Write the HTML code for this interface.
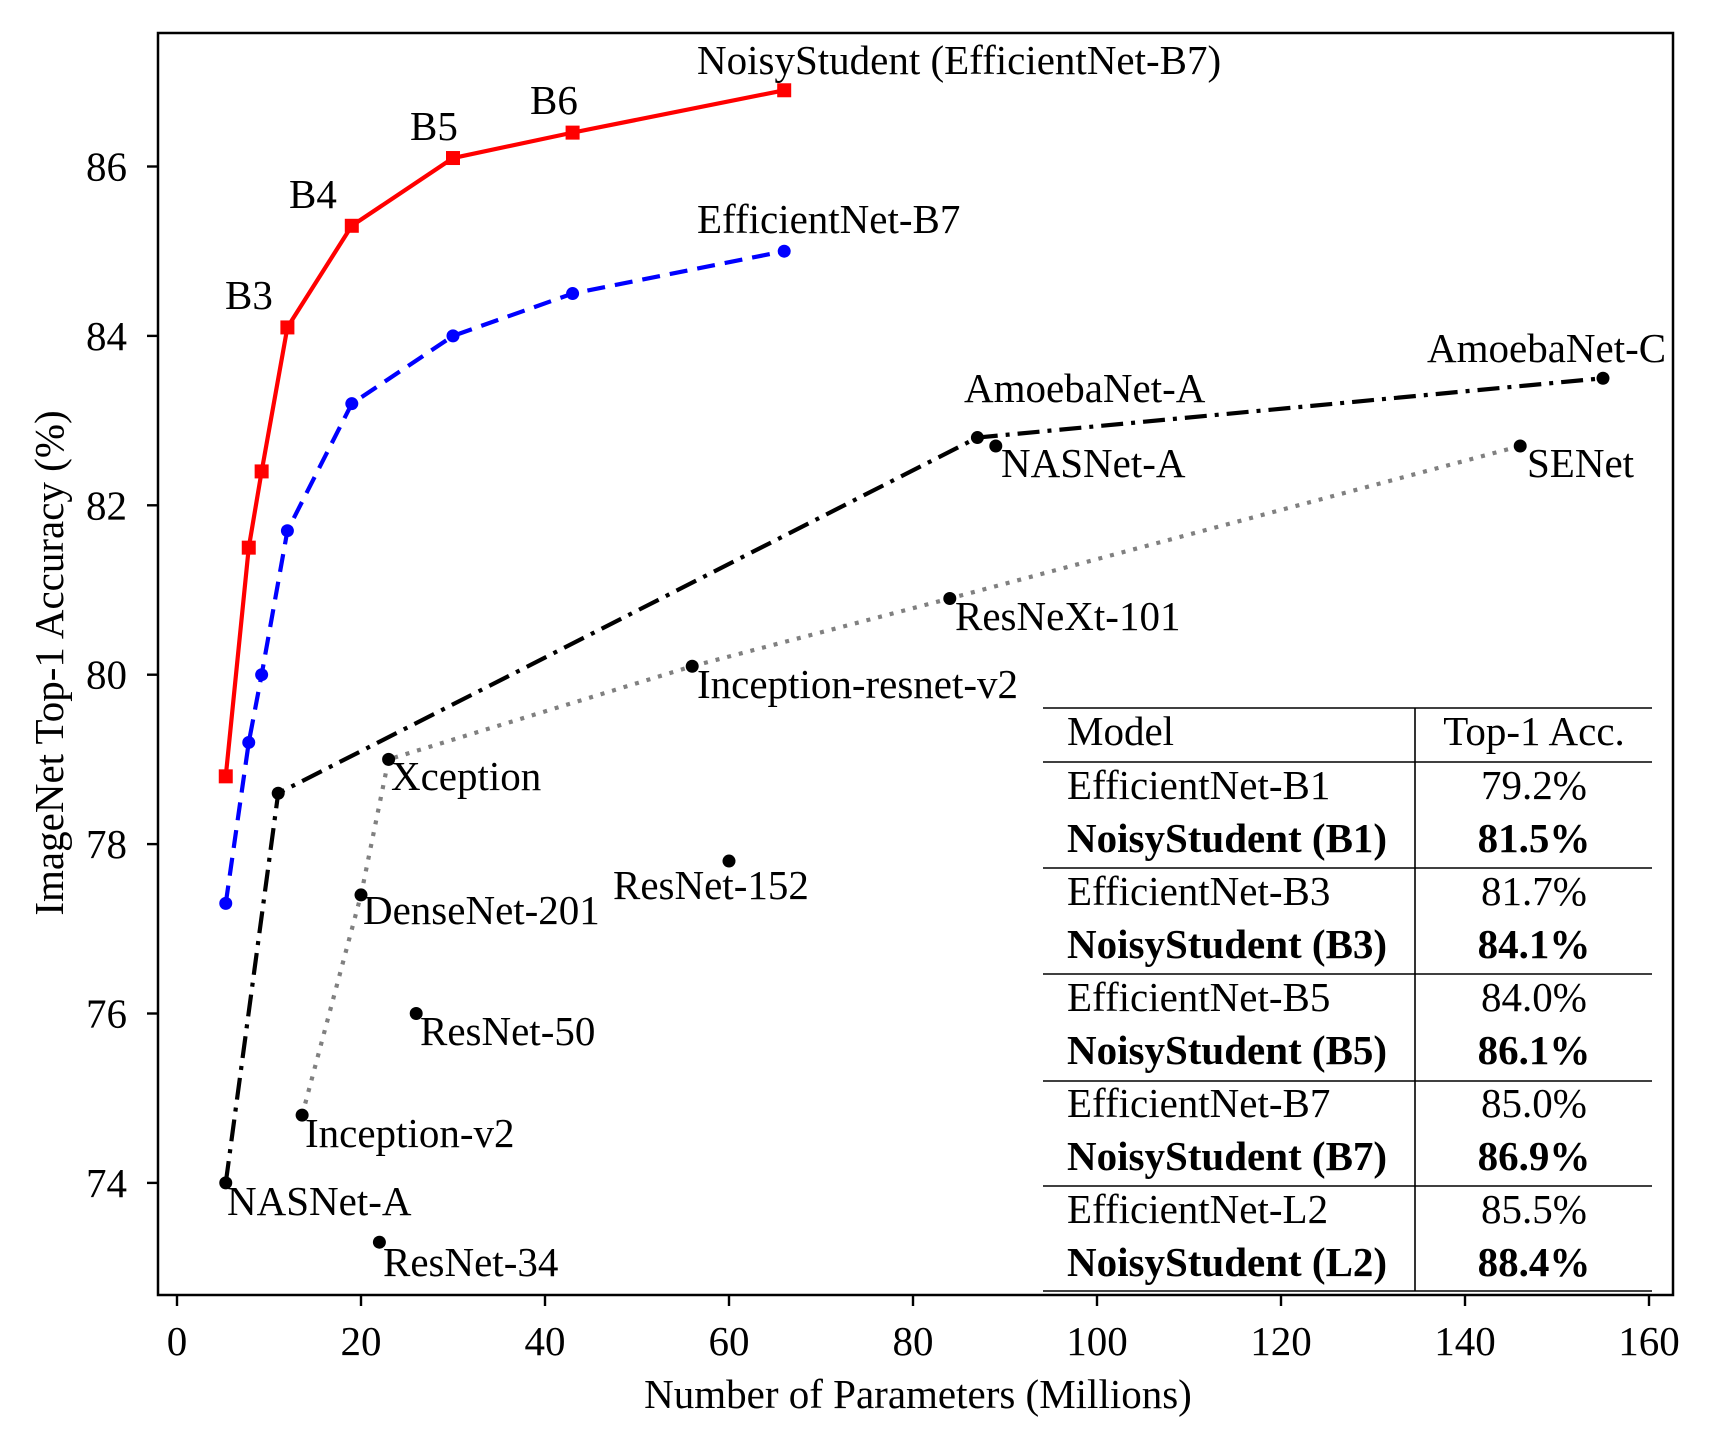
<!DOCTYPE html>
<html><head><meta charset="utf-8"><style>
html,body{margin:0;padding:0;background:#fff}
svg{display:block;font-family:"Liberation Serif",serif}
</style></head><body>
<svg id="chart" width="1710" height="1451" viewBox="0 0 1710 1451" xmlns="http://www.w3.org/2000/svg"></svg>
<script>
const noisyParams=[5.3,7.8,9.2,12,19,30,43,66];
const noisyAcc=[78.8,81.5,82.4,84.1,85.3,86.1,86.4,86.9];
const effParams=[5.3,7.8,9.2,12,19,30,43,66];
const effAcc=[77.3,79.2,80.0,81.7,83.2,84.0,84.5,85.0];
const nasParams=[5.3,11,87,155];
const nasAcc=[74.0,78.6,82.8,83.5];
const grayParams=[13.6,20,23,56,84,146];
const grayAcc=[74.8,77.4,79.0,80.1,80.9,82.7];
const singleNames=["NASNet-A-large","ResNet-152","ResNet-50","ResNet-34"];
const singleParams=[89,60,26,22];
const singleAcc=[82.7,77.8,76.0,73.3];
const xTicks=[0,20,40,60,80,100,120,140,160];
const yTicks=[74,76,78,80,82,84,86];
const tableModels=["EfficientNet-B1","NoisyStudent (B1)","EfficientNet-B3","NoisyStudent (B3)","EfficientNet-B5","NoisyStudent (B5)","EfficientNet-B7","NoisyStudent (B7)","EfficientNet-L2","NoisyStudent (L2)"];
const tableAcc=["79.2%","81.5%","81.7%","84.1%","84.0%","86.1%","85.0%","86.9%","85.5%","88.4%"];

const svg=document.getElementById('chart');
const NS='http://www.w3.org/2000/svg';
const FS=41;
const L=158,R=1673,T=33,B=1295;
const x=v=>177+v*9.2;
const y=v=>166.5-(v-86)*84.7;
function mk(tag,attrs,parent){const e=document.createElementNS(NS,tag);for(const k in attrs)e.setAttribute(k,attrs[k]);(parent||svg).appendChild(e);return e;}
function txt(s,px,py,opt){const e=mk('text',Object.assign({x:px,y:py,'font-size':FS,fill:'#000'},opt&&opt.a||{}));e.textContent=s;return e;}

const frame=mk('rect',{x:L,y:T,width:R-L,height:B-T,fill:'none',stroke:'#000','stroke-width':2.5});



xTicks.forEach(v=>{
  const l=mk('line',{x1:x(v),x2:x(v),y1:B,y2:B+11,stroke:'#000','stroke-width':2.4});
  
  
  const t=txt(String(v),x(v),1355,{a:{'text-anchor':'middle'}});
  
  
});
yTicks.forEach(v=>{
  const l=mk('line',{x1:L-11,x2:L,y1:y(v),y2:y(v),stroke:'#000','stroke-width':2.4});
  
  
  const t=txt(String(v),127,y(v)+14,{a:{'text-anchor':'end'}});
  
  
});
const xt=txt('Number of Parameters (Millions)',918,1408,{a:{'text-anchor':'middle'}});


const yt=txt('ImageNet Top-1 Accuracy (%)',0,0,{a:{'text-anchor':'middle',transform:'translate(63,663) rotate(-90)'}});



function series(px,py,color,dash,width,name){
  const pts=px.map((v,i)=>x(v)+','+y(py[i])).join(' ');
  const p=mk('polyline',{points:pts,fill:'none',stroke:color,'stroke-width':width,'stroke-dasharray':dash,'stroke-linejoin':'round'});
  
  
}
function circles(px,py,color,name){
  px.forEach((v,i)=>{const c=mk('circle',{cx:x(v),cy:y(py[i]),r:6.5,fill:color});
    
    });
}
series(grayParams,grayAcc,'#808080','4 8',4.2,'other-models');
circles(grayParams,grayAcc,'#000','other-models');
series(nasParams,nasAcc,'#000','22 8 4 8',4.2,'nas-models');
circles(nasParams,nasAcc,'#000','nas-models');
circles(singleParams,singleAcc,'#000','single-model');
series(effParams,effAcc,'#0000ff','18 10',4.2,'efficientnet');
circles(effParams,effAcc,'#0000ff','efficientnet');
series(noisyParams,noisyAcc,'#ff0000','',4.2,'noisy-student');
noisyParams.forEach((v,i)=>{const r=mk('rect',{x:x(v)-7,y:y(noisyAcc[i])-7,width:14,height:14,fill:'#ff0000'});
  
  });

const labels=[["NoisyStudent (EfficientNet-B7)",697,74],["B6",530,114],["B5",410,140],["B4",289,208],["B3",225,309],
["EfficientNet-B7",697,233],["AmoebaNet-C",1427,362],["AmoebaNet-A",964,402],["NASNet-A",1001,477],["SENet",1527,477],
["ResNeXt-101",955,630],["Inception-resnet-v2",697,698],["Xception",391,790],["ResNet-152",613,899],["DenseNet-201",363,924],
["ResNet-50",420,1045],["Inception-v2",305,1147],["NASNet-A",227,1215],["ResNet-34",383,1276]];
labels.forEach(l=>{const t=txt(l[0],l[1],l[2]);
  
  });

const g=mk('g',{});


[708,762,868,974,1081,1186,1291].forEach(yy=>{const l=mk('line',{x1:1043,x2:1652,y1:yy,y2:yy,stroke:'#000','stroke-width':1.6},g);
  
  });
const vl=mk('line',{x1:1415,x2:1415,y1:708,y2:1291,stroke:'#000','stroke-width':1.6},g);


const h1=txt('Model',1067,745);
const h2=txt('Top-1 Acc.',1534,745,{a:{'text-anchor':'middle'}});
tableModels.forEach((m,i)=>{
  const by=799+i*53;const bold=i%2===1;
  const a=txt(m,1067,by,{a:{'font-weight':bold?'bold':'normal'}});
  
  
  const b=txt(tableAcc[i],1534,by,{a:{'text-anchor':'middle','font-weight':bold?'bold':'normal'}});
  
  
});
</script>
</body></html>
